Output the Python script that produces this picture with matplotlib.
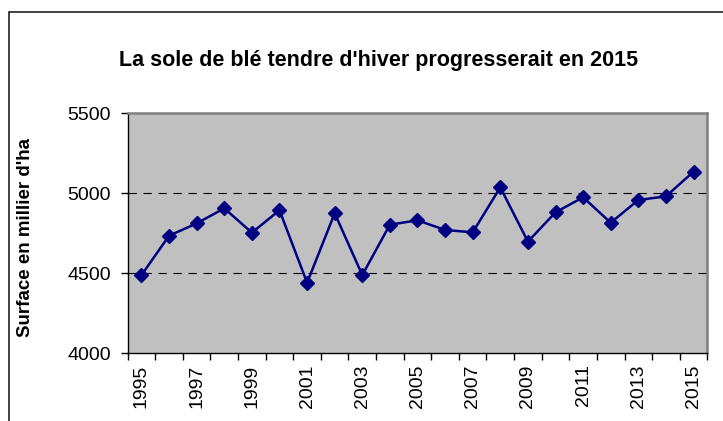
import matplotlib
matplotlib.use("Agg")
import matplotlib.pyplot as plt
from matplotlib.patches import Rectangle

years = [str(y) for y in range(1995, 2016)]
surface = [4489, 4735, 4812, 4906, 4754, 4894, 4441, 4875, 4489, 4804, 4831,
           4771, 4756, 5037, 4698, 4881, 4975, 4816, 4958, 4981, 5135]
yticks = [4000, 4500, 5000, 5500]
title = "La sole de blé tendre d'hiver progresserait en 2015"
ylabel = "Surface en millier d'ha"

plt.rcParams['font.family'] = ['Liberation Sans', 'DejaVu Sans']

fig = plt.figure(figsize=(7.23, 4.21), dpi=100)
fig.patch.set_facecolor('white')
ax = fig.add_axes([0.1766, 0.1608, 0.8017, 0.5701])
ax.set_facecolor('#C0C0C0')

x = list(range(len(years)))
ax.plot(x, surface, color='#000080', lw=1.8, marker='D', ms=7.5,
        markerfacecolor='#000080', markeredgecolor='#000080', zorder=3)

ax.set_ylim(4000, 5500)
ax.set_yticks(yticks)
ax.set_yticklabels([str(v) for v in yticks], fontsize=14)
ax.set_xlim(-0.5, len(years) - 0.5)

# labels every other year, tick marks between categories
ax.set_xticks(x[::2])
ax.set_xticklabels(years[::2], rotation=90, fontsize=14)
ax.tick_params(axis='x', which='major', length=0, pad=8)
ax.set_xticks([i - 0.5 for i in range(len(years) + 1)], minor=True)
ax.tick_params(axis='x', which='minor', length=5, width=1, color='black', direction='out')
ax.tick_params(axis='y', length=5, width=1, color='black', direction='out', pad=7)

for v in [4500, 5000]:
    ax.axhline(v, color='black', lw=0.8, linestyle=(0, (7.5, 6)), zorder=1)

for s in ['top', 'right']:
    ax.spines[s].set_color('#808080')
    ax.spines[s].set_linewidth(1.8)
for s in ['left', 'bottom']:
    ax.spines[s].set_color('black')
    ax.spines[s].set_linewidth(1.0)

fig.text(0.5235, 0.857, title, ha='center', va='center', fontsize=15.5, fontweight='bold')
fig.text(0.035, 0.4347, ylabel, ha='center', va='center', rotation=90,
         fontsize=13.5, fontweight='bold')

fig.patches.append(Rectangle((9 / 723, -0.1), 1.2, 1 - 11.7 / 421 + 0.1,
                             transform=fig.transFigure, fill=False,
                             edgecolor='#202020', lw=1.2, clip_on=False))

fig.savefig('out.png', dpi=100)
